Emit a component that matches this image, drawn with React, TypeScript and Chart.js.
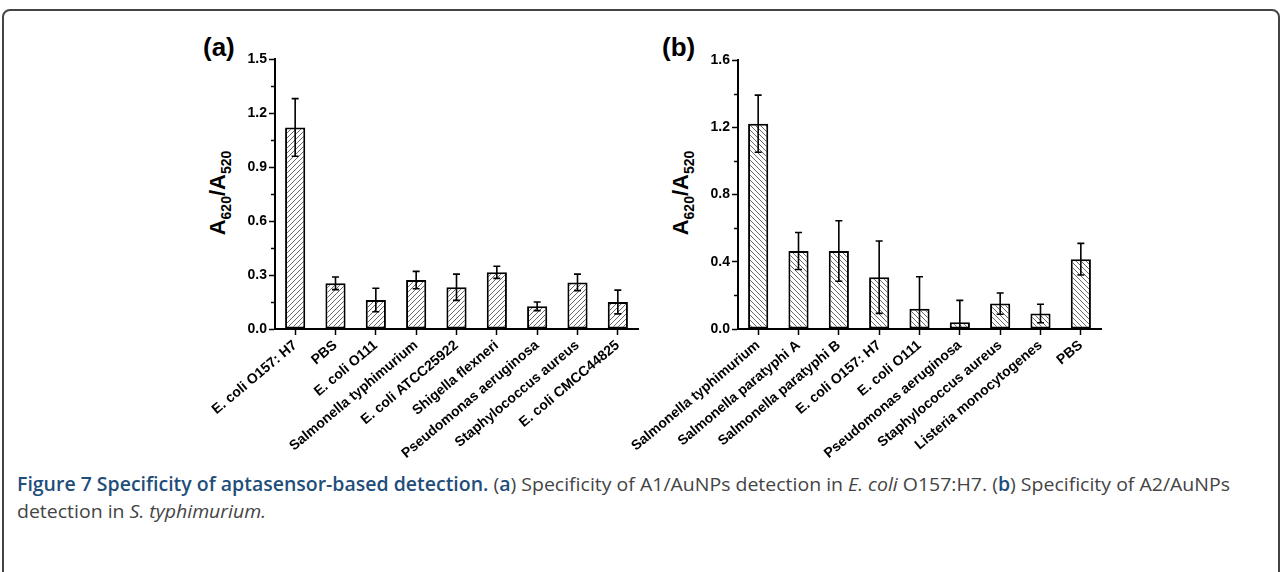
import React, { useEffect, useLayoutEffect, useRef } from 'react';
import { Chart, registerables } from 'chart.js';
Chart.register(...registerables);

// ---------- Data ----------
const categoriesA = [
  'E. coli O157: H7',
  'PBS',
  'E. coli O111',
  'Salmonella typhimurium',
  'E. coli ATCC25922',
  'Shigella flexneri',
  'Pseudomonas aeruginosa',
  'Staphylococcus aureus',
  'E. coli CMCC44825',
];
const valuesA = [1.12, 0.254, 0.161, 0.272, 0.232, 0.315, 0.126, 0.259, 0.15];
const errorsA = [0.16, 0.035, 0.065, 0.048, 0.073, 0.034, 0.024, 0.046, 0.066];
const yMaxA = 1.5;
const yStepA = 0.3;

const categoriesB = [
  'Salmonella typhimurium',
  'Salmonella paratyphi A',
  'Salmonella paratyphi B',
  'E. coli O157: H7',
  'E. coli O111',
  'Pseudomonas aeruginosa',
  'Staphylococcus aureus',
  'Listeria monocytogenes',
  'PBS',
];
const valuesB = [1.221, 0.464, 0.464, 0.308, 0.121, 0.04, 0.151, 0.092, 0.415];
const errorsB = [0.17, 0.11, 0.18, 0.215, 0.19, 0.13, 0.063, 0.055, 0.094];
const yMaxB = 1.6;
const yStepB = 0.4;

// ---------- Helpers ----------
function hatch(dir: number): CanvasPattern | string {
  const s = 5;
  const c = document.createElement('canvas');
  c.width = s;
  c.height = s;
  const g = c.getContext('2d');
  if (!g) return '#fff';
  g.fillStyle = '#fff';
  g.fillRect(0, 0, s, s);
  g.strokeStyle = '#6a6a6a';
  g.lineWidth = 1;
  g.beginPath();
  if (dir === 1) {
    g.moveTo(-1, s + 1); g.lineTo(s + 1, -1);
    g.moveTo(-2, 2); g.lineTo(2, -2);
    g.moveTo(s - 2, s + 2); g.lineTo(s + 2, s - 2);
  } else {
    g.moveTo(-1, -1); g.lineTo(s + 1, s + 1);
    g.moveTo(s - 2, -2); g.lineTo(s + 2, 2);
    g.moveTo(-2, s - 2); g.lineTo(2, s + 2);
  }
  g.stroke();
  return g.createPattern(c, 'repeat') || '#fff';
}

const errPlugin = {
  id: 'errbars',
  afterDatasetsDraw(chart: any, _args: any, opts: any) {
    const errors: number[] = opts.errors || [];
    const meta = chart.getDatasetMeta(0);
    const y = chart.scales.y;
    const ctx = chart.ctx;
    const area = chart.chartArea;
    ctx.save();
    ctx.beginPath();
    ctx.rect(area.left - 10, area.top - 10, area.right - area.left + 20, area.bottom - area.top + 10);
    ctx.clip();
    ctx.strokeStyle = '#000';
    ctx.lineWidth = 1.6;
    meta.data.forEach((bar: any, i: number) => {
      const v = chart.data.datasets[0].data[i] as number;
      const e = errors[i] || 0;
      const yt = y.getPixelForValue(v + e);
      const yb = y.getPixelForValue(v - e);
      const x = bar.x;
      const cw = 3.5;
      ctx.beginPath();
      ctx.moveTo(x, yt); ctx.lineTo(x, yb);
      ctx.moveTo(x - cw, yt); ctx.lineTo(x + cw, yt);
      ctx.moveTo(x - cw, yb); ctx.lineTo(x + cw, yb);
      ctx.stroke();
    });
    ctx.restore();
  },
};

const minorPlugin = {
  id: 'minorTicks',
  afterDraw(chart: any) {
    const y = chart.scales.y;
    const ctx = chart.ctx;
    const left = chart.chartArea.left;
    const ticks = y.ticks.map((t: any) => t.value);
    ctx.save();
    ctx.strokeStyle = '#000';
    ctx.lineWidth = 1.5;
    for (let i = 0; i < ticks.length - 1; i++) {
      const mid = (ticks[i] + ticks[i + 1]) / 2;
      const py = Math.round(y.getPixelForValue(mid)) + 0.5;
      ctx.beginPath();
      ctx.moveTo(left - 4, py);
      ctx.lineTo(left, py);
      ctx.stroke();
    }
    ctx.restore();
  },
};

type PanelProps = {
  labels: string[];
  values: number[];
  errors: number[];
  max: number;
  step: number;
  dir: number;
  left: number;
  top: number;
  width: number;
  height: number;
  yWidth: number;
  padTop: number;
  padRight: number;
  xHeight: number;
};

const tickFont = { family: '"Liberation Sans", Arial, sans-serif', weight: 'bold' as const, size: 14 };

function Panel(p: PanelProps) {
  const ref = useRef<HTMLCanvasElement>(null);
  useEffect(() => {
    if (!ref.current) return;
    const chart = new Chart(ref.current, {
      type: 'bar',
      data: {
        labels: p.labels,
        datasets: [
          {
            data: p.values,
            backgroundColor: hatch(p.dir) as any,
            borderColor: '#000',
            borderWidth: 2,
            borderSkipped: false,
            barPercentage: 0.5,
            categoryPercentage: 1,
          },
        ],
      },
      options: {
        animation: false,
        responsive: false,
        maintainAspectRatio: false,
        layout: { padding: { top: p.padTop, right: p.padRight, left: 0, bottom: 0 } },
        plugins: {
          legend: { display: false },
          tooltip: { enabled: false },
          errbars: { errors: p.errors },
        } as any,
        scales: {
          x: {
            grid: { display: true, drawOnChartArea: false, offset: false, tickLength: 6, tickWidth: 1.5, tickColor: '#000' },
            border: { color: '#000', width: 2 },
            ticks: { minRotation: 40, maxRotation: 40, autoSkip: false, font: tickFont, color: '#000', padding: 2 },
            afterFit: (s: any) => { s.height = p.xHeight; },
          },
          y: {
            min: 0,
            max: p.max,
            grid: { display: true, drawOnChartArea: false, tickLength: 6, tickWidth: 1.5, tickColor: '#000' },
            border: { color: '#000', width: 2 },
            ticks: {
              stepSize: p.step,
              font: tickFont,
              color: '#000',
              padding: 2,
              callback: (v: any) => Number(v).toFixed(1),
            },
            afterFit: (s: any) => { s.width = p.yWidth; },
          },
        },
      },
      plugins: [errPlugin, minorPlugin],
    });
    return () => chart.destroy();
  }, []);
  return (
    <canvas
      ref={ref}
      width={p.width}
      height={p.height}
      style={{ position: 'absolute', left: p.left, top: p.top, width: p.width, height: p.height }}
    />
  );
}

function YTitle({ x, y }: { x: number; y: number }) {
  return (
    <div
      style={{
        position: 'absolute',
        left: x,
        top: y,
        transform: 'translate(-50%, -50%) rotate(-90deg)',
        fontFamily: '"Liberation Sans", Arial, sans-serif',
        fontWeight: 'bold',
        fontSize: 22,
        whiteSpace: 'nowrap',
        lineHeight: '26px',
        color: '#000',
      }}
    >
      A<sub style={{ fontSize: 14 }}>620</sub>/A<sub style={{ fontSize: 14 }}>520</sub>
    </div>
  );
}

function PanelTag({ x, y, text }: { x: number; y: number; text: string }) {
  return (
    <div
      style={{
        position: 'absolute',
        left: x,
        top: y,
        fontFamily: '"Liberation Sans", Arial, sans-serif',
        fontWeight: 'bold',
        fontSize: 26,
        lineHeight: '26px',
        color: '#000',
      }}
    >
      {text}
    </div>
  );
}

function Caption() {
  const boxRef = useRef<HTMLDivElement>(null);
  const lineRef = useRef<HTMLSpanElement>(null);
  useLayoutEffect(() => {
    if (!boxRef.current || !lineRef.current) return;
    const w = lineRef.current.getBoundingClientRect().width;
    if (w > 0) {
      boxRef.current.style.transform = `scaleX(${1213 / w})`;
    }
  }, []);
  return (
    <div
      ref={boxRef}
      style={{
        position: 'absolute',
        left: 17,
        top: 471,
        transformOrigin: '0 0',
        whiteSpace: 'nowrap',
        fontFamily: '"Open Sans", "Noto Sans", sans-serif',
        fontSize: 19,
        lineHeight: '27px',
        color: '#444',
      }}
    >
      <span ref={lineRef} style={{ display: 'inline-block' }}>
        <b style={{ color: '#1f4e7a', fontWeight: 600 }}>Figure 7 Specificity of aptasensor-based detection.</b> (
        <b style={{ color: '#1f4e7a', fontWeight: 600 }}>a</b>) Specificity of A1/AuNPs detection in <i>E. coli</i> O157:H7. (
        <b style={{ color: '#1f4e7a', fontWeight: 600 }}>b</b>) Specificity of A2/AuNPs
      </span>
      <br />
      <span>
        detection in <i>S. typhimurium.</i>
      </span>
    </div>
  );
}

export default function App() {
  return (
    <div style={{ position: 'absolute', left: 0, top: 0, width: 1282, height: 572, overflow: 'hidden', background: '#fff' }}>
      <div
        style={{
          position: 'absolute',
          left: 2,
          top: 9,
          width: 1274,
          height: 700,
          border: '2px solid #444',
          borderRadius: 8,
        }}
      />
      <PanelTag x={203} y={34} text="(a)" />
      <PanelTag x={662} y={34} text="(b)" />
      <YTitle x={222} y={193} />
      <YTitle x={685} y={193} />
      <Panel
        labels={categoriesA}
        values={valuesA}
        errors={errorsA}
        max={yMaxA}
        step={yStepA}
        dir={1}
        left={170}
        top={40}
        width={480}
        height={430}
        yWidth={105}
        padTop={19}
        padRight={12}
        xHeight={141}
      />
      <Panel
        labels={categoriesB}
        values={valuesB}
        errors={errorsB}
        max={yMaxB}
        step={yStepB}
        dir={-1}
        left={620}
        top={40}
        width={490}
        height={430}
        yWidth={118}
        padTop={20}
        padRight={9}
        xHeight={141}
      />
      <Caption />
    </div>
  );
}
